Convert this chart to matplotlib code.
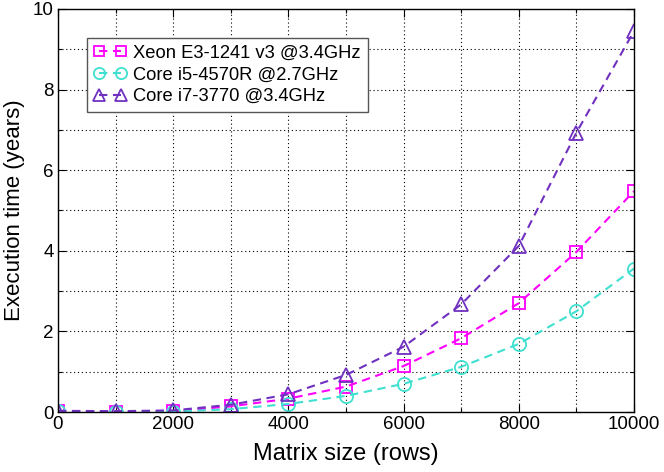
import matplotlib
matplotlib.use("Agg")
import matplotlib.pyplot as plt
from matplotlib.ticker import MultipleLocator

plt.rcParams['font.family'] = ['Liberation Sans', 'DejaVu Sans']

# data
sizes = [0, 1000, 2000, 3000, 4000, 5000, 6000, 7000, 8000, 9000, 10000]
xeon = [0.02, 0.01, 0.02, 0.14, 0.33, 0.63, 1.14, 1.83, 2.70, 3.97, 5.48]
i5 = [0.02, 0.0, 0.01, 0.07, 0.20, 0.40, 0.70, 1.12, 1.69, 2.50, 3.56]
i7 = [0.03, 0.02, 0.04, 0.18, 0.44, 0.92, 1.62, 2.67, 4.12, 6.93, 9.45]

labels = ["Xeon E3-1241 v3 @3.4GHz", "Core i5-4570R @2.7GHz", "Core i7-3770 @3.4GHz"]
colors = ["#ff00ff", "#40e0d0", "#7030c0"]
markers = ["s", "o", "^"]
msizes = [8.5, 9.5, 9.5]

fig = plt.figure(figsize=(6.64, 4.72), dpi=100)
ax = fig.add_axes([0.0873, 0.1271, 0.8675, 0.8539])

for ys, lab, c, m, ms in zip([xeon, i5, i7], labels, colors, markers, msizes):
    ax.plot(sizes, ys, linestyle="--", dashes=(4, 2.7), color=c, lw=1.5,
            marker=m, markersize=ms, markerfacecolor="none",
            markeredgecolor=c, markeredgewidth=1.3, label=lab)

ax.set_xlim(0, 10000)
ax.set_ylim(0, 10)
ax.xaxis.set_major_locator(MultipleLocator(2000))
ax.xaxis.set_minor_locator(MultipleLocator(1000))
ax.yaxis.set_major_locator(MultipleLocator(2))
ax.yaxis.set_minor_locator(MultipleLocator(1))
ax.grid(True, which="both", color="black", linestyle=(0, (1, 2.5)), lw=0.8)
ax.tick_params(which="both", direction="in", top=True, right=True,
               labelsize=13.5, pad=3, width=0.8)
ax.tick_params(which="major", length=6)
ax.tick_params(which="minor", length=3)
for sp in ax.spines.values():
    sp.set_linewidth(1.0)

ax.set_xlabel("Matrix size (rows)", fontsize=17, labelpad=7)
ax.set_ylabel("Execution time (years)", fontsize=16, labelpad=6)

# gnuplot-like key: two markers joined by a dash
leg = ax.legend(loc="upper left", bbox_to_anchor=(0.050, 0.928), borderaxespad=0,
                fontsize=13.2, numpoints=2, markerscale=0.85, handlelength=1.8,
                handletextpad=0.37, borderpad=0.37, labelspacing=0.25,
                fancybox=False, framealpha=1, edgecolor="#555555")
leg.get_frame().set_linewidth(1.0)

fig.savefig("out.png", dpi=100)
